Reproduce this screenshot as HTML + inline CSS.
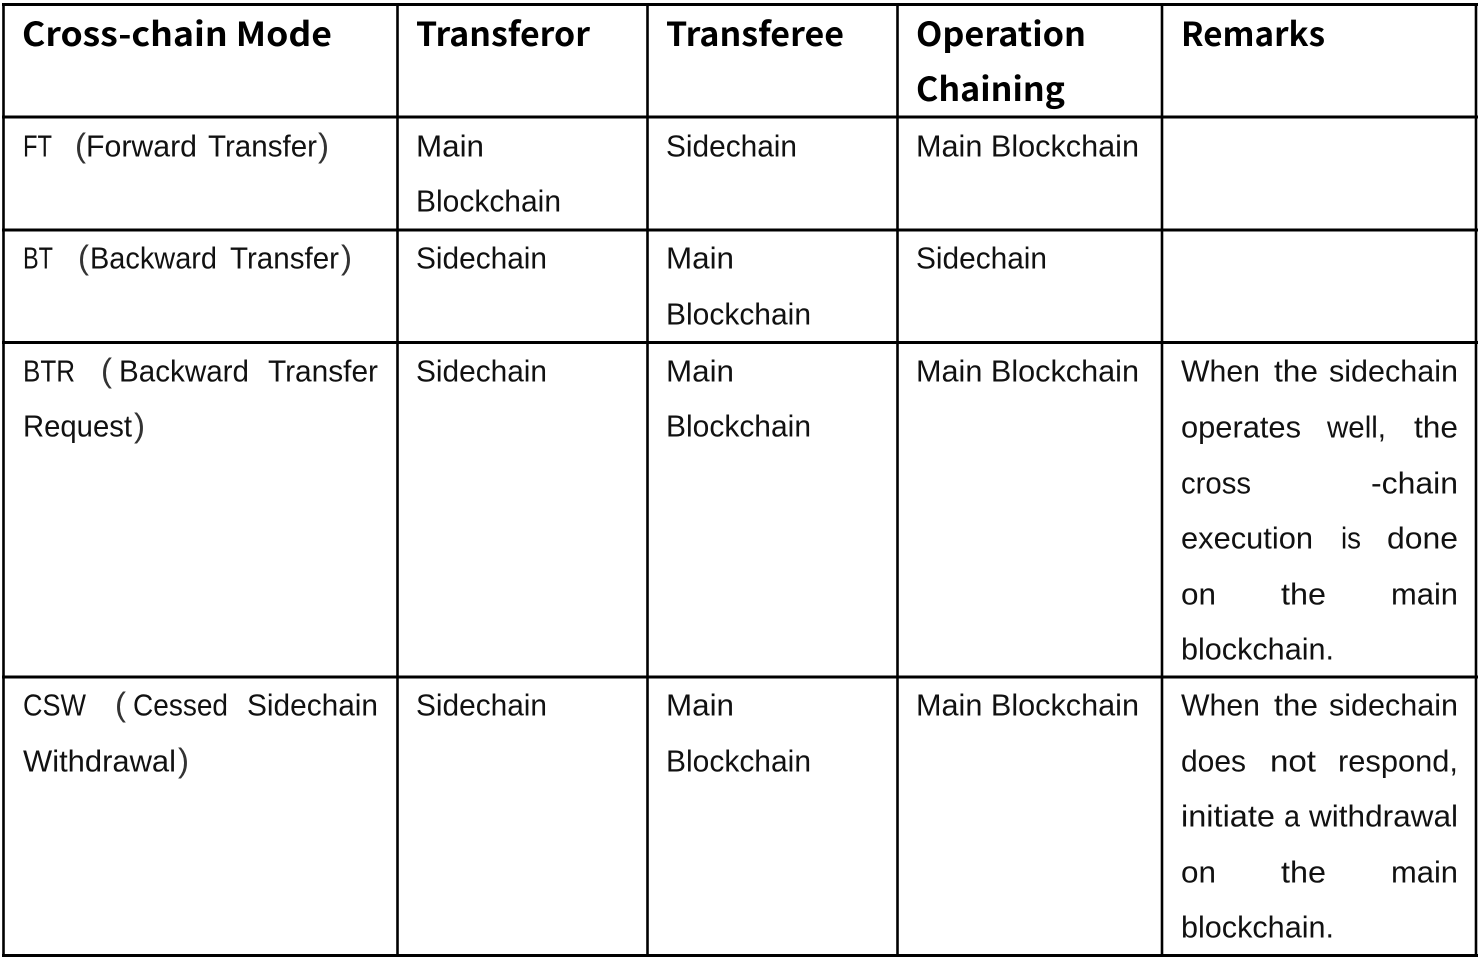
<!DOCTYPE html>
<html><head><meta charset="utf-8"><style>
html,body{margin:0;padding:0;background:#fff;width:1480px;height:960px;overflow:hidden}
svg{display:block}
text{font-family:"Liberation Sans","Noto Sans CJK SC",sans-serif;font-size:30.5px;fill:#111}
.b{font-family:"Noto Sans CJK SC","Liberation Sans",sans-serif;font-weight:700;font-size:33px;fill:#000}
.p{font-size:33px;fill:#333}
.h line{stroke:#000;stroke-width:3}
.v line{stroke:#000;stroke-width:2.6}
</style></head><body>
<svg width="1480" height="960" viewBox="0 0 1480 960" xmlns="http://www.w3.org/2000/svg">
<g class="h">
<line x1="2" y1="4.5" x2="1478" y2="4.5"/>
<line x1="2" y1="117" x2="1478" y2="117"/>
<line x1="2" y1="230" x2="1478" y2="230"/>
<line x1="2" y1="342.5" x2="1478" y2="342.5"/>
<line x1="2" y1="677" x2="1478" y2="677"/>
<line x1="2" y1="955.5" x2="1478" y2="955.5"/>
</g>
<g class="v">
<line x1="3.5" y1="3" x2="3.5" y2="957"/>
<line x1="397.5" y1="3" x2="397.5" y2="957"/>
<line x1="647.5" y1="3" x2="647.5" y2="957"/>
<line x1="897.5" y1="3" x2="897.5" y2="957"/>
<line x1="1162" y1="3" x2="1162" y2="957"/>
<line x1="1476" y1="3" x2="1476" y2="957"/>
</g>
<text class="b" x="22" y="46" textLength="310" lengthAdjust="spacingAndGlyphs">Cross-chain Mode</text>
<text class="b" x="416" y="46" textLength="174" lengthAdjust="spacingAndGlyphs">Transferor</text>
<text class="b" x="666" y="46" textLength="178" lengthAdjust="spacingAndGlyphs">Transferee</text>
<text class="b" x="916" y="46" textLength="170" lengthAdjust="spacingAndGlyphs">Operation</text>
<text class="b" x="916" y="101" textLength="149" lengthAdjust="spacingAndGlyphs">Chaining</text>
<text class="b" x="1181" y="46" textLength="144" lengthAdjust="spacingAndGlyphs">Remarks</text>

<g transform="translate(0,-0.7)">
<text x="23" y="157" textLength="29" lengthAdjust="spacingAndGlyphs">FT</text>
<text class="p" x="75" y="157" textLength="11" lengthAdjust="spacingAndGlyphs">(</text>
<text x="86" y="157" textLength="111" lengthAdjust="spacingAndGlyphs">Forward</text>
<text x="208" y="157" textLength="109" lengthAdjust="spacingAndGlyphs">Transfer</text>
<text class="p" x="318" y="157" textLength="11" lengthAdjust="spacingAndGlyphs">)</text>
<text x="416" y="157" textLength="68" lengthAdjust="spacingAndGlyphs">Main</text>
<text x="416" y="212" textLength="145" lengthAdjust="spacingAndGlyphs">Blockchain</text>
<text x="666" y="157" textLength="131" lengthAdjust="spacingAndGlyphs">Sidechain</text>
<text x="916" y="157" textLength="223" lengthAdjust="spacingAndGlyphs">Main Blockchain</text>

<text x="23" y="269" textLength="30" lengthAdjust="spacingAndGlyphs">BT</text>
<text class="p" x="78" y="269" textLength="11" lengthAdjust="spacingAndGlyphs">(</text>
<text x="90" y="269" textLength="127" lengthAdjust="spacingAndGlyphs">Backward</text>
<text x="230" y="269" textLength="109" lengthAdjust="spacingAndGlyphs">Transfer</text>
<text class="p" x="341" y="269" textLength="11" lengthAdjust="spacingAndGlyphs">)</text>
<text x="416" y="269" textLength="131" lengthAdjust="spacingAndGlyphs">Sidechain</text>
<text x="666" y="269" textLength="68" lengthAdjust="spacingAndGlyphs">Main</text>
<text x="666" y="325" textLength="145" lengthAdjust="spacingAndGlyphs">Blockchain</text>
<text x="916" y="269" textLength="131" lengthAdjust="spacingAndGlyphs">Sidechain</text>

<text x="23" y="382" textLength="52" lengthAdjust="spacingAndGlyphs">BTR</text>
<text class="p" x="101" y="382" textLength="11" lengthAdjust="spacingAndGlyphs">(</text>
<text x="119" y="382" textLength="130" lengthAdjust="spacingAndGlyphs">Backward</text>
<text x="268" y="382" textLength="110" lengthAdjust="spacingAndGlyphs">Transfer</text>
<text x="23" y="437" textLength="109" lengthAdjust="spacingAndGlyphs">Request</text>
<text class="p" x="134" y="437" textLength="11" lengthAdjust="spacingAndGlyphs">)</text>
<text x="416" y="382" textLength="131" lengthAdjust="spacingAndGlyphs">Sidechain</text>
<text x="666" y="382" textLength="68" lengthAdjust="spacingAndGlyphs">Main</text>
<text x="666" y="437" textLength="145" lengthAdjust="spacingAndGlyphs">Blockchain</text>
<text x="916" y="382" textLength="223" lengthAdjust="spacingAndGlyphs">Main Blockchain</text>

<text x="1181" y="382" textLength="79" lengthAdjust="spacingAndGlyphs">When</text>
<text x="1274" y="382" textLength="44" lengthAdjust="spacingAndGlyphs">the</text>
<text x="1329" y="382" textLength="129" lengthAdjust="spacingAndGlyphs">sidechain</text>
<text x="1181" y="438" textLength="120" lengthAdjust="spacingAndGlyphs">operates</text>
<text x="1327" y="438" textLength="59" lengthAdjust="spacingAndGlyphs">well,</text>
<text x="1414" y="438" textLength="44" lengthAdjust="spacingAndGlyphs">the</text>
<text x="1181" y="494" textLength="70" lengthAdjust="spacingAndGlyphs">cross</text>
<text x="1371" y="494" textLength="87" lengthAdjust="spacingAndGlyphs">-chain</text>
<text x="1181" y="549" textLength="132" lengthAdjust="spacingAndGlyphs">execution</text>
<text x="1341" y="549" textLength="20" lengthAdjust="spacingAndGlyphs">is</text>
<text x="1387" y="549" textLength="71" lengthAdjust="spacingAndGlyphs">done</text>
<text x="1181" y="605" textLength="35" lengthAdjust="spacingAndGlyphs">on</text>
<text x="1281" y="605" textLength="45" lengthAdjust="spacingAndGlyphs">the</text>
<text x="1391" y="605" textLength="67" lengthAdjust="spacingAndGlyphs">main</text>
<text x="1181" y="660" textLength="153" lengthAdjust="spacingAndGlyphs">blockchain.</text>

<text x="23" y="716" textLength="63" lengthAdjust="spacingAndGlyphs">CSW</text>
<text class="p" x="115" y="716" textLength="11" lengthAdjust="spacingAndGlyphs">(</text>
<text x="133" y="716" textLength="95" lengthAdjust="spacingAndGlyphs">Cessed</text>
<text x="247" y="716" textLength="131" lengthAdjust="spacingAndGlyphs">Sidechain</text>
<text x="23" y="772" textLength="153" lengthAdjust="spacingAndGlyphs">Withdrawal</text>
<text class="p" x="178" y="772" textLength="11" lengthAdjust="spacingAndGlyphs">)</text>
<text x="416" y="716" textLength="131" lengthAdjust="spacingAndGlyphs">Sidechain</text>
<text x="666" y="716" textLength="68" lengthAdjust="spacingAndGlyphs">Main</text>
<text x="666" y="772" textLength="145" lengthAdjust="spacingAndGlyphs">Blockchain</text>
<text x="916" y="716" textLength="223" lengthAdjust="spacingAndGlyphs">Main Blockchain</text>

<text x="1181" y="716" textLength="79" lengthAdjust="spacingAndGlyphs">When</text>
<text x="1274" y="716" textLength="44" lengthAdjust="spacingAndGlyphs">the</text>
<text x="1329" y="716" textLength="129" lengthAdjust="spacingAndGlyphs">sidechain</text>
<text x="1181" y="772" textLength="65" lengthAdjust="spacingAndGlyphs">does</text>
<text x="1270" y="772" textLength="46" lengthAdjust="spacingAndGlyphs">not</text>
<text x="1338" y="772" textLength="120" lengthAdjust="spacingAndGlyphs">respond,</text>
<text x="1181" y="827" textLength="94" lengthAdjust="spacingAndGlyphs">initiate</text>
<text x="1284" y="827" textLength="16" lengthAdjust="spacingAndGlyphs">a</text>
<text x="1309" y="827" textLength="149" lengthAdjust="spacingAndGlyphs">withdrawal</text>
<text x="1181" y="883" textLength="35" lengthAdjust="spacingAndGlyphs">on</text>
<text x="1281" y="883" textLength="45" lengthAdjust="spacingAndGlyphs">the</text>
<text x="1391" y="883" textLength="67" lengthAdjust="spacingAndGlyphs">main</text>
<text x="1181" y="938" textLength="153" lengthAdjust="spacingAndGlyphs">blockchain.</text>
</g>
</svg>
</body></html>
